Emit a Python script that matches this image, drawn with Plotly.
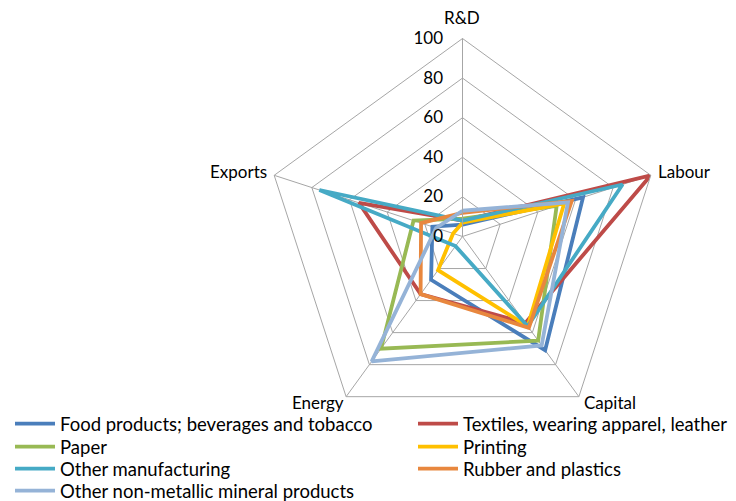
import plotly.graph_objects as go

# Axes of the spider chart, in clockwise order starting from the top
axes = ["R&D", "Labour", "Capital", "Energy", "Exports"]
radial_ticks = [0, 20, 40, 60, 80, 100]

# Scores per industry (0-100) on each axis
food = [6, 64, 71, 27, 16]
textiles = [8, 100, 54, 36, 55]
paper = [9, 50, 65, 70, 26]
printing = [7, 54, 56, 21, 5]
other_manufacturing = [8, 85, 56, 6, 76]
rubber_plastics = [12, 58, 57, 36, 22]
non_metallic = [13, 56, 68, 78, 14]

series = [
    ("Food products; beverages and tobacco", food, "#4A7EBB"),
    ("Textiles, wearing apparel, leather", textiles, "#BE4B48"),
    ("Paper", paper, "#98B954"),
    ("Printing", printing, "#FFC000"),
    ("Other manufacturing", other_manufacturing, "#46AAC5"),
    ("Rubber and plastics", rubber_plastics, "#E8873E"),
    ("Other non-metallic mineral products", non_metallic, "#95B3D7"),
]

FONT = "Lato"
GRID = "#A6A6A6"
W, H = 736, 501
cx, cy, R = 462.5, 236.5, 198

# Legend laid out in two columns, four rows; one legend box per entry
col_x = [10, 413]
row_y = [424, 447, 469, 491]

# Axis-name placement around the outer pentagon (pixel anchor, alignment)
axis_label_pos = {
    "R&D": (462, 18, "center"),
    "Labour": (656, 172, "left"),
    "Capital": (582, 402, "left"),
    "Energy": (346, 402, "right"),
    "Exports": (269, 172, "right"),
}

fig = go.Figure()
legend_layout = {}
for i, (name, vals, color) in enumerate(series):
    key = "legend" if i == 0 else f"legend{i + 1}"
    fig.add_trace(go.Scatterpolar(
        r=vals + vals[:1],
        theta=axes + axes[:1],
        mode="lines",
        name=name,
        legend=key,
        line=dict(color=color, width=3.8),
    ))
    legend_layout[key] = dict(
        x=col_x[i % 2] / W, xanchor="left",
        y=(H - row_y[i // 2]) / H, yanchor="middle",
        itemwidth=40,
        font=dict(family=FONT, size=18.5, color="#000000"),
        bgcolor="rgba(0,0,0,0)",
        borderwidth=0,
    )

annotations = []
for name in axes:
    px, py, align = axis_label_pos[name]
    annotations.append(dict(
        text=name, showarrow=False,
        xref="paper", yref="paper",
        x=px / W, y=(H - py) / H,
        xanchor=align, yanchor="middle",
        font=dict(family=FONT, size=17, color="#000000"),
    ))

fig.update_layout(
    width=W, height=H,
    margin=dict(l=0, r=0, t=0, b=0, autoexpand=False),
    paper_bgcolor="white",
    plot_bgcolor="white",
    font=dict(family=FONT, size=16, color="#000000"),
    polar=dict(
        domain=dict(x=[(cx - R) / W, (cx + R) / W],
                    y=[(H - cy - R) / H, (H - cy + R) / H]),
        gridshape="linear",
        bgcolor="white",
        radialaxis=dict(
            range=[0, 100],
            tickvals=radial_ticks,
            angle=90,
            tickangle=90,
            side="counterclockwise",
            showline=True,
            linecolor=GRID,
            linewidth=1,
            gridcolor=GRID,
            gridwidth=1,
            ticks="outside",
            ticklen=13,
            tickcolor="rgba(0,0,0,0)",
            tickfont=dict(family=FONT, size=17),
        ),
        angularaxis=dict(
            rotation=90,
            direction="clockwise",
            showline=True,
            linecolor=GRID,
            linewidth=1,
            gridcolor=GRID,
            gridwidth=1,
            ticks="",
            showticklabels=False,
        ),
    ),
    annotations=annotations,
    showlegend=True,
    **legend_layout,
)

fig.write_html("out.html")
